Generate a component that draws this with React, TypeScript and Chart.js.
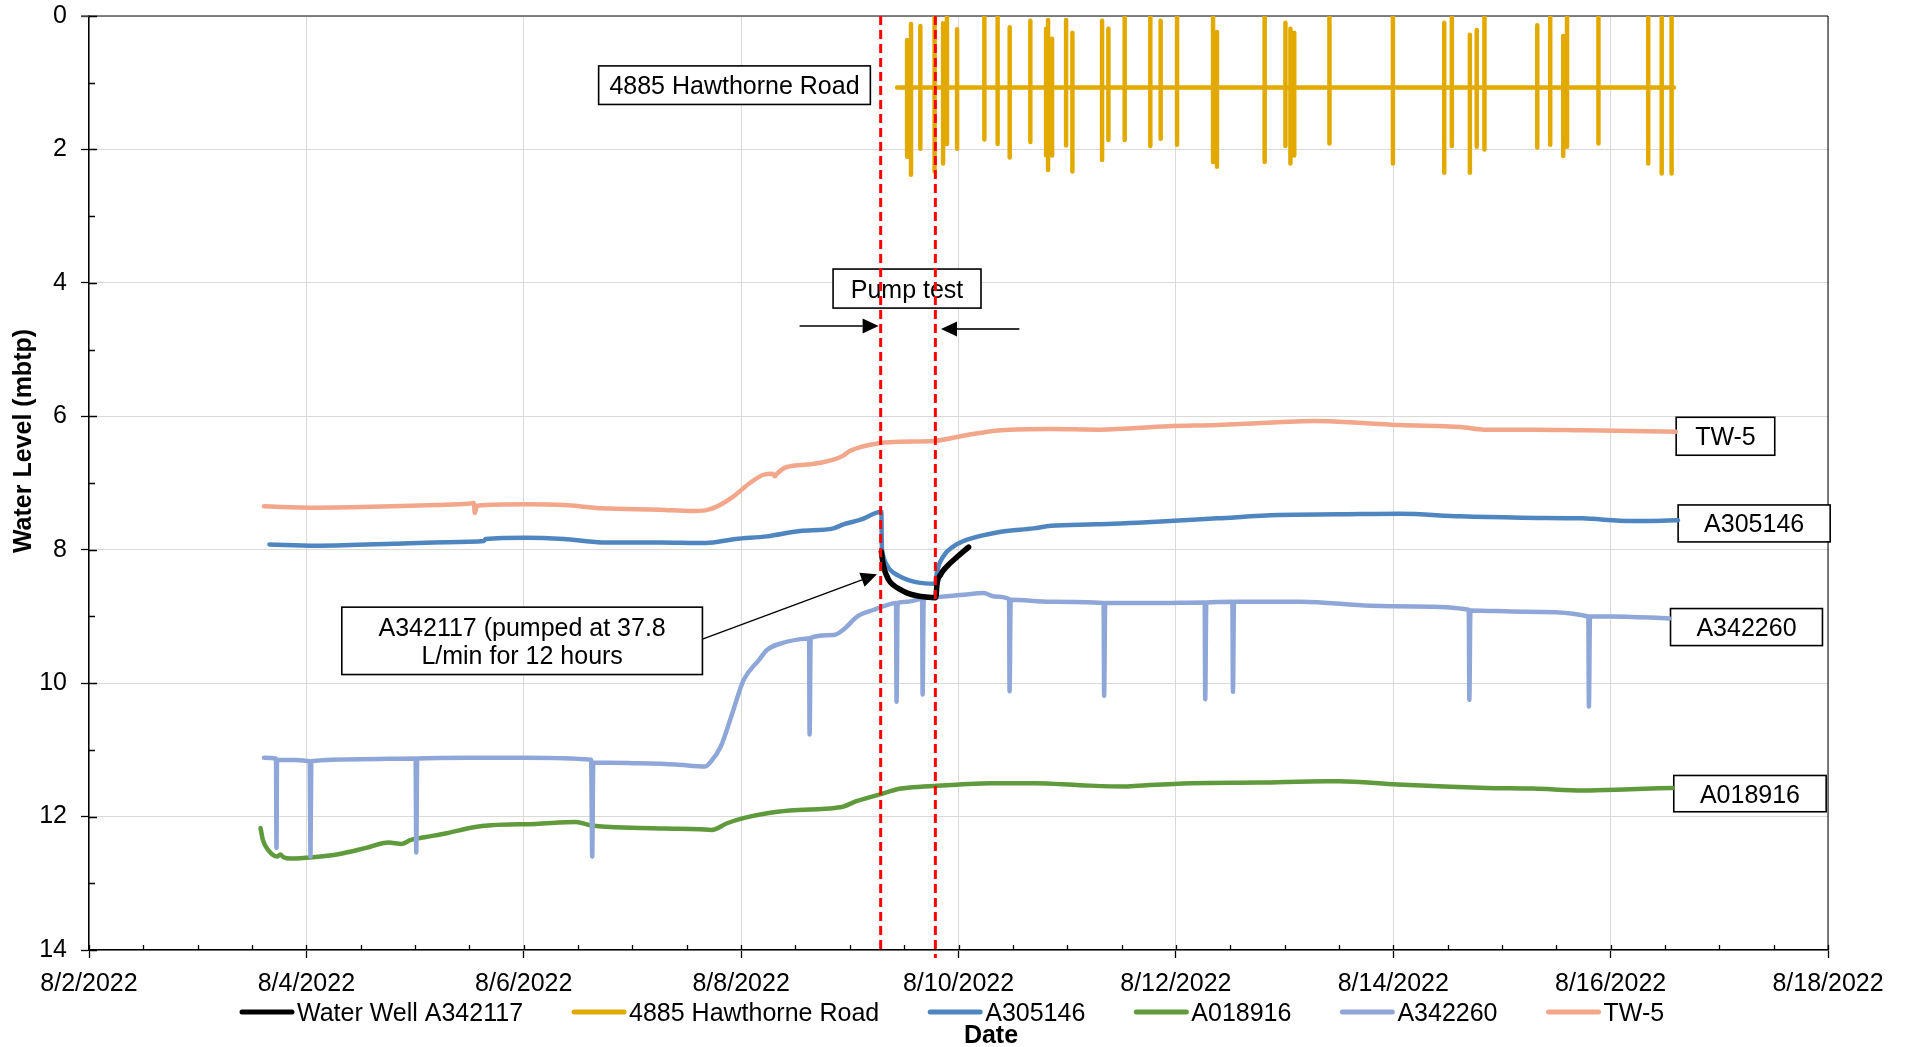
import { useEffect, useRef } from 'react';
import { Chart, registerables } from 'chart.js';

Chart.register(...registerables);

const FONT = "'Liberation Sans', Arial, Helvetica, sans-serif";

// x values are days since 8/2/2022 00:00
const X_TICK_VALUES = [0, 2, 4, 6, 8, 10, 12, 14, 16];
const X_TICK_LABELS = ['8/2/2022', '8/4/2022', '8/6/2022', '8/8/2022', '8/10/2022', '8/12/2022', '8/14/2022', '8/16/2022', '8/18/2022'];
const Y_TICK_VALUES = [0, 2, 4, 6, 8, 10, 12, 14];
const X_MINOR_STEP = 0.5;
const Y_MINOR_STEP = 1;

const PUMP_START = 7.284;
const PUMP_END = 7.787;

const SERIES_NAMES = ['Water Well A342117', '4885 Hawthorne Road', 'A305146', 'A018916', 'A342260', 'TW-5'];
const SERIES_COLORS = ['#000000', '#E2AA00', '#4F86BF', '#5F9A3C', '#8FA7D8', '#F2A68A'];

const WATER_WELL_A342117: [number, number][] = [
  [7.29, 8.03], [7.30, 8.15], [7.31, 8.25], [7.357, 8.45], [7.40, 8.53], [7.457, 8.59], [7.53, 8.65],
  [7.618, 8.69], [7.70, 8.71], [7.785, 8.72], [7.795, 8.68], [7.80, 8.55], [7.833, 8.38], [7.894, 8.25],
  [7.986, 8.11], [8.093, 7.96],
];

const HAWTHORNE_BASE = 1.07;
const HAWTHORNE_START = 7.435;
const HAWTHORNE_END = 14.582;
// [day, deepest level, shallowest level]
const HAWTHORNE_SPIKES: [number, number, number][] = [
  [7.527, 2.11, 0.36], [7.563, 2.38, 0.12], [7.649, 1.99, 0.15], [7.780, 2.33, 0], [7.858, 2.21, 0.11],
  [7.894, 1.92, 0], [7.987, 1.99, 0.20], [8.238, 1.85, 0], [8.360, 1.92, 0], [8.471, 2.12, 0.17],
  [8.661, 1.89, 0.07], [8.806, 2.09, 0.19], [8.824, 2.31, 0.06], [8.861, 2.09, 0.34], [8.990, 1.94, 0.06],
  [9.048, 2.33, 0.25], [9.321, 2.16, 0.07], [9.379, 1.86, 0.19], [9.529, 1.86, 0], [9.765, 1.95, 0],
  [9.860, 1.84, 0.07], [10.011, 1.93, 0], [10.342, 2.19, 0], [10.378, 2.26, 0.24], [10.817, 2.19, 0],
  [11.008, 1.95, 0.10], [11.054, 2.21, 0.19], [11.089, 2.09, 0.25], [11.413, 1.91, 0], [11.997, 2.21, 0],
  [12.469, 2.35, 0.10], [12.539, 1.95, 0.01], [12.705, 2.35, 0.28], [12.768, 1.96, 0.21], [12.839, 2.00, 0],
  [13.325, 1.97, 0.14], [13.444, 1.93, 0], [13.564, 2.10, 0.30], [13.599, 1.96, 0], [13.888, 1.91, 0],
  [14.346, 2.21, 0], [14.470, 2.36, 0], [14.561, 2.36, 0],
];

const A305146: [number, number][] = [
  [1.66, 7.92], [2.08, 7.94], [2.79, 7.91], [3.49, 7.88], [3.63, 7.87], [3.65, 7.84], [4.02, 7.82],
  [4.37, 7.84], [4.72, 7.89], [5.25, 7.89], [5.67, 7.90], [5.95, 7.84], [6.24, 7.80], [6.54, 7.72],
  [6.85, 7.68], [6.94, 7.62], [7.10, 7.55], [7.29, 7.43], [7.295, 7.95], [7.30, 8.04], [7.34, 8.23],
  [7.46, 8.40], [7.62, 8.49], [7.78, 8.51], [7.79, 8.48], [7.80, 8.35], [7.86, 8.10], [7.955, 7.95],
  [8.08, 7.85], [8.39, 7.73], [8.69, 7.68], [8.85, 7.64], [9.26, 7.62], [9.82, 7.58], [10.38, 7.53],
  [10.94, 7.48], [11.5, 7.47], [12.06, 7.46], [12.62, 7.50], [13.18, 7.52], [13.74, 7.53], [14.19, 7.57],
  [14.62, 7.56],
];

const A018916: [number, number][] = [
  [1.578, 12.17], [1.60, 12.35], [1.648, 12.50], [1.73, 12.60], [1.76, 12.57], [1.79, 12.61], [1.853, 12.63],
  [2.06, 12.61], [2.305, 12.56], [2.55, 12.47], [2.757, 12.39], [2.88, 12.41], [2.96, 12.35], [3.086, 12.31],
  [3.29, 12.25], [3.54, 12.16], [3.70, 12.13], [4.11, 12.11], [4.48, 12.08], [4.61, 12.13], [4.85, 12.16],
  [5.30, 12.18], [5.62, 12.19], [5.73, 12.20], [5.87, 12.10], [6.03, 12.02], [6.24, 11.95], [6.45, 11.91],
  [6.86, 11.87], [6.94, 11.85], [7.06, 11.77], [7.27, 11.67], [7.47, 11.58], [7.68, 11.55], [8.01, 11.52],
  [8.30, 11.50], [8.70, 11.50], [9.12, 11.53], [9.53, 11.55], [9.73, 11.53], [10.14, 11.50], [10.76, 11.49],
  [11.38, 11.47], [11.50, 11.47], [12.04, 11.52], [12.86, 11.57], [13.29, 11.58], [13.75, 11.61],
  [14.18, 11.59], [14.57, 11.57],
];

const A342260: [number, number][] = [
  [1.61, 11.12], [1.72, 11.13], [1.725, 12.47], [1.73, 11.15], [2.03, 11.17], [2.038, 12.60], [2.045, 11.17],
  [2.5, 11.14], [3.005, 11.13], [3.011, 12.54], [3.02, 11.13], [3.5, 11.12], [4.0, 11.12], [4.62, 11.15],
  [4.63, 12.60], [4.64, 11.19], [5.0, 11.20], [5.4, 11.22], [5.67, 11.25], [5.72, 11.18], [5.813, 10.95],
  [5.919, 10.45], [6.024, 9.95], [6.165, 9.65], [6.24, 9.50], [6.376, 9.40], [6.545, 9.34], [6.625, 9.33],
  [6.63, 10.77], [6.64, 9.32], [6.85, 9.28], [6.94, 9.20], [7.07, 9.00], [7.22, 8.90], [7.34, 8.83],
  [7.425, 8.80], [7.43, 10.28], [7.44, 8.80], [7.53, 8.78], [7.665, 8.74], [7.67, 10.17], [7.68, 8.74],
  [7.77, 8.71], [8.02, 8.68], [8.23, 8.65], [8.33, 8.70], [8.465, 8.74], [8.47, 10.12], [8.48, 8.75],
  [8.845, 8.78], [9.335, 8.80], [9.34, 10.19], [9.35, 8.80], [9.8, 8.80], [10.265, 8.79], [10.27, 10.24],
  [10.28, 8.79], [10.52, 8.78], [10.525, 10.13], [10.535, 8.78], [11.15, 8.78], [11.79, 8.84], [12.2, 8.85],
  [12.695, 8.90], [12.70, 10.25], [12.71, 8.91], [13.2, 8.93], [13.795, 9.0], [13.80, 10.35], [13.81, 9.0],
  [14.0, 9.0], [14.54, 9.03],
];

const TW5: [number, number][] = [
  [1.61, 7.35], [2.08, 7.37], [2.79, 7.35], [3.2, 7.33], [3.49, 7.31], [3.54, 7.30], [3.55, 7.45],
  [3.57, 7.34], [4.02, 7.32], [4.37, 7.33], [4.72, 7.38], [5.25, 7.40], [5.55, 7.42], [5.67, 7.41],
  [5.78, 7.35], [5.93, 7.20], [6.08, 7.00], [6.20, 6.88], [6.29, 6.86], [6.31, 6.90], [6.33, 6.86],
  [6.42, 6.76], [6.64, 6.72], [6.85, 6.65], [6.94, 6.59], [7.00, 6.52], [7.10, 6.46], [7.28, 6.40],
  [7.46, 6.38], [7.77, 6.37], [8.08, 6.28], [8.39, 6.21], [8.85, 6.19], [9.3, 6.20], [9.93, 6.15],
  [10.38, 6.13], [10.94, 6.09], [11.27, 6.07], [11.72, 6.10], [12.06, 6.13], [12.62, 6.16], [12.84, 6.20],
  [13.3, 6.20], [13.74, 6.21], [14.2, 6.22], [14.6, 6.23],
];

// annotation boxes in data units: [x0, x1, y0, y1, lines]
const BOXES: [number, number, number, number, string[]][] = [
  [4.689, 7.189, 0.748, 1.326, ['4885 Hawthorne Road']],
  [6.846, 8.207, 3.793, 4.378, ['Pump test']],
  [2.326, 5.644, 8.861, 9.871, ['A342117 (pumped at 37.8', 'L/min for 12 hours']],
  [14.603, 15.510, 6.015, 6.584, ['TW-5']],
  [14.621, 16.020, 7.329, 7.883, ['A305146']],
  [14.551, 15.949, 8.882, 9.437, ['A342260']],
  [14.581, 15.983, 11.384, 11.928, ['A018916']],
];
// arrows in data units: [fromX, fromY, toX, toY, lineWidth]
const ARROWS: [number, number, number, number, number][] = [
  [6.538, 4.647, 7.265, 4.647, 1.3],
  [8.560, 4.692, 7.839, 4.692, 1.8],
  [5.644, 9.341, 7.250, 8.367, 1.3],
];

const pts = (a: [number, number][]) => a.map(([x, y]) => ({ x, y }));

function hawthorneData() {
  const out = [{ x: HAWTHORNE_START, y: HAWTHORNE_BASE }];
  for (const [d, lo, hi] of HAWTHORNE_SPIKES) {
    out.push({ x: d, y: HAWTHORNE_BASE }, { x: d, y: lo }, { x: d, y: hi }, { x: d, y: HAWTHORNE_BASE });
  }
  out.push({ x: HAWTHORNE_END, y: HAWTHORNE_BASE });
  return out;
}

const overlayPlugin = {
  id: 'overlay',
  beforeDatasetsDraw(chart: any) {
    const { ctx, chartArea: a, scales } = chart;
    const xs = scales.x;
    const ys = scales.y;
    ctx.save();
    // frame top / right
    ctx.strokeStyle = '#595959';
    ctx.lineWidth = 1.5;
    ctx.beginPath();
    ctx.moveTo(a.left - 8, a.top);
    ctx.lineTo(a.right, a.top);
    ctx.stroke();
    ctx.strokeStyle = '#000';
    ctx.lineWidth = 1;
    ctx.beginPath();
    ctx.moveTo(a.right, a.top);
    ctx.lineTo(a.right, a.bottom);
    ctx.stroke();
    // minor / inner ticks
    ctx.strokeStyle = '#000';
    ctx.lineWidth = 1.3;
    ctx.beginPath();
    for (let v = 0; v <= 14 + 1e-9; v += Y_MINOR_STEP) {
      const py = Math.round(ys.getPixelForValue(v)) + 0.5;
      const major = Y_TICK_VALUES.includes(v);
      ctx.moveTo(a.left, py);
      ctx.lineTo(a.left + (major ? 8 : 6), py);
    }
    for (let v = 0; v <= 16 + 1e-9; v += X_MINOR_STEP) {
      const px = Math.round(xs.getPixelForValue(v)) + 0.5;
      ctx.moveTo(px, a.bottom);
      ctx.lineTo(px, a.bottom - 5);
    }
    ctx.stroke();
    // arrows
    ctx.fillStyle = '#000';
    for (const [x0, y0, x1, y1, lw] of ARROWS) {
      const p0x = xs.getPixelForValue(x0), p0y = ys.getPixelForValue(y0);
      const p1x = xs.getPixelForValue(x1), p1y = ys.getPixelForValue(y1);
      const ang = Math.atan2(p1y - p0y, p1x - p0x);
      const L = 16, W = 7.5;
      const bx = p1x - L * Math.cos(ang), by = p1y - L * Math.sin(ang);
      ctx.strokeStyle = lw > 1.5 ? '#333' : '#000';
      ctx.lineWidth = lw;
      ctx.beginPath();
      ctx.moveTo(p0x, p0y);
      ctx.lineTo(bx, by);
      ctx.stroke();
      ctx.beginPath();
      ctx.moveTo(p1x, p1y);
      ctx.lineTo(bx + W * Math.sin(ang), by - W * Math.cos(ang));
      ctx.lineTo(bx - W * Math.sin(ang), by + W * Math.cos(ang));
      ctx.closePath();
      ctx.fill();
    }
    // boxes
    ctx.font = `25px ${FONT}`;
    ctx.textAlign = 'center';
    ctx.textBaseline = 'alphabetic';
    for (const [x0, x1, y0, y1, lines] of BOXES) {
      const l = xs.getPixelForValue(x0), r = xs.getPixelForValue(x1);
      const t = ys.getPixelForValue(y0), b = ys.getPixelForValue(y1);
      ctx.fillStyle = '#fff';
      ctx.fillRect(l, t, r - l, b - t);
      ctx.strokeStyle = '#000';
      ctx.lineWidth = 1.6;
      ctx.strokeRect(l, t, r - l, b - t);
      ctx.fillStyle = '#000';
      const cx = (l + r) / 2, cy = (t + b) / 2;
      const lh = 28.4;
      lines.forEach((s, i) => {
        const c = cy + (i - (lines.length - 1) / 2) * lh;
        ctx.fillText(s, cx, c + 0.358 * 25);
      });
    }
    ctx.restore();
  },
  afterDraw(chart: any) {
    const { ctx, chartArea: a } = chart;
    ctx.save();
    ctx.fillStyle = '#000';
    // y title
    ctx.font = `bold 25px ${FONT}`;
    ctx.textAlign = 'center';
    ctx.textBaseline = 'alphabetic';
    ctx.translate(31, (a.top + a.bottom) / 2 - 42);
    ctx.rotate(-Math.PI / 2);
    ctx.fillText('Water Level (mbtp)', 0, 0);
    ctx.setTransform(1, 0, 0, 1, 0, 0);
    // x title
    ctx.fillText('Date', 991, 1043);
    // legend
    ctx.font = `25px ${FONT}`;
    ctx.textAlign = 'left';
    let x = 240;
    const yc = 1012;
    SERIES_NAMES.forEach((name, i) => {
      ctx.strokeStyle = SERIES_COLORS[i];
      ctx.lineWidth = 5;
      ctx.lineCap = 'round';
      ctx.beginPath();
      ctx.moveTo(x + 2, yc);
      ctx.lineTo(x + 52, yc);
      ctx.stroke();
      x += 57;
      ctx.fillText(name, x, yc + 0.358 * 25);
      x += ctx.measureText(name).width + 49;
    });
    ctx.restore();
  },
};

export default function App() {
  const ref = useRef<HTMLCanvasElement | null>(null);
  useEffect(() => {
    if (!ref.current) return;
    Chart.defaults.font.family = FONT;
    const line = (label: string, data: any[], color: string, width: number, order: number, extra: any = {}) => ({
      label, data, borderColor: color, backgroundColor: color, borderWidth: width, pointRadius: 0,
      pointHoverRadius: 0, fill: false, order, cubicInterpolationMode: 'monotone', borderCapStyle: 'round',
      borderJoinStyle: 'round', ...extra,
    });
    const chart = new Chart(ref.current, {
      type: 'line',
      data: {
        datasets: [
          line('pump start', [{ x: PUMP_START, y: 0 }, { x: PUMP_START, y: 14 }], '#FF0000', 3, 0, { borderDash: [9, 5], borderCapStyle: 'butt', cubicInterpolationMode: 'default', tension: 0 }),
          line('pump end', [{ x: PUMP_END, y: 0 }, { x: PUMP_END, y: 14.12 }], '#FF0000', 3, 0, { borderDash: [9, 5], borderCapStyle: 'butt', cubicInterpolationMode: 'default', tension: 0, clip: { left: 5, top: 0, right: 5, bottom: 12 } }),
          line(SERIES_NAMES[0], pts(WATER_WELL_A342117), SERIES_COLORS[0], 5.5, 1),
          line(SERIES_NAMES[2], pts(A305146), SERIES_COLORS[2], 4.5, 2),
          line(SERIES_NAMES[4], pts(A342260), SERIES_COLORS[4], 4.5, 3),
          line(SERIES_NAMES[3], pts(A018916), SERIES_COLORS[3], 4.5, 4),
          line(SERIES_NAMES[1], hawthorneData(), SERIES_COLORS[1], 4.5, 5, { cubicInterpolationMode: 'default', tension: 0 }),
          line(SERIES_NAMES[5], pts(TW5), SERIES_COLORS[5], 4.5, 6),
        ],
      },
      options: {
        responsive: false,
        devicePixelRatio: 1,
        animation: false,
        events: [],
        layout: { padding: { left: 0, right: 80, top: 16, bottom: 0 } },
        plugins: { legend: { display: false }, tooltip: { enabled: false }, title: { display: false } },
        scales: {
          x: {
            type: 'linear', min: 0, max: 16,
            afterBuildTicks: (s: any) => { s.ticks = X_TICK_VALUES.map((value) => ({ value })); },
            afterFit: (s: any) => { s.height = 97; s.paddingLeft = 0; s.paddingRight = 0; },
            ticks: {
              callback: (v: any) => X_TICK_LABELS[X_TICK_VALUES.indexOf(Number(v))] ?? '',
              color: '#000', font: { size: 25, family: FONT }, padding: 11, maxRotation: 0, autoSkip: false,
            },
            grid: { color: '#D9D9D9', lineWidth: 1, tickLength: 8, tickColor: '#000', tickWidth: 1.3 },
            border: { color: '#000', width: 1.5 },
          },
          y: {
            type: 'linear', min: 0, max: 14, reverse: true,
            afterBuildTicks: (s: any) => { s.ticks = Y_TICK_VALUES.map((value) => ({ value })); },
            afterFit: (s: any) => { s.width = 89; s.paddingTop = 0; s.paddingBottom = 0; },
            ticks: { color: '#000', font: { size: 25, family: FONT }, padding: 14 },
            grid: { color: '#D9D9D9', lineWidth: 1, tickLength: 8, tickColor: '#000', tickWidth: 1.3 },
            border: { color: '#000', width: 1.5 },
          },
        },
      } as any,
      plugins: [overlayPlugin],
    });
    return () => chart.destroy();
  }, []);
  return (
    <div style={{ position: 'absolute', left: 0, top: 0, width: 1908, height: 1047, background: '#fff' }}>
      <canvas ref={ref} width={1908} height={1047} style={{ width: 1908, height: 1047, display: 'block' }} />
    </div>
  );
}
